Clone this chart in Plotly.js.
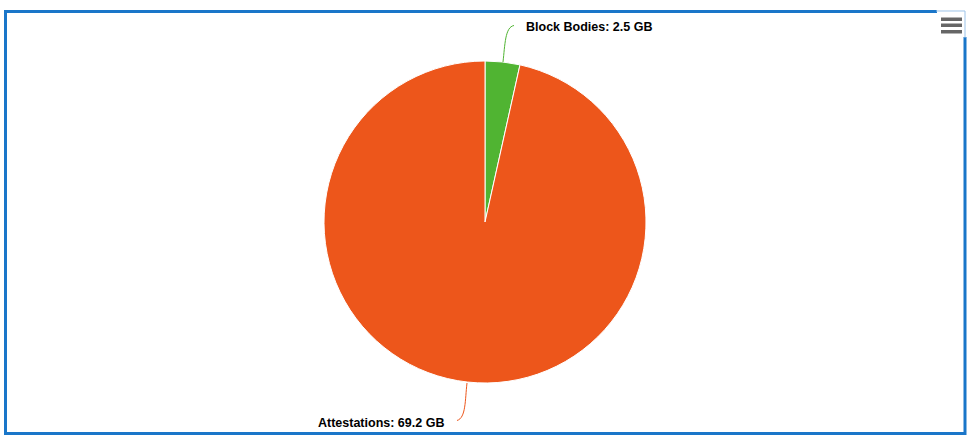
<!DOCTYPE html>
<html>
<head>
<meta charset="utf-8">
<script src="https://cdn.plot.ly/plotly-3.0.1.min.js"></script>
<style>html,body{margin:0;padding:0;background:#fff;}#chart{width:978px;height:444px;}</style>
</head>
<body>
<div id="chart"></div>
<script>
// Data
const categories = ["Block Bodies", "Attestations"];
const sizesGB = [2.5, 69.2];
const unit = "GB";
const sliceColors = ["#50B432", "#ED561B"];

const W = 978, H = 444;
const px = x => x / W;
const py = y => 1 - y / H;
function path(pts) {
  return pts.map(p => p[0] + " " + p.slice(1).map((v, i) => i % 2 === 0 ? px(v).toFixed(5) : py(v).toFixed(5)).join(" ")).join(" ");
}

const trace = {
  type: "pie",
  labels: categories,
  values: sizesGB,
  sort: false,
  direction: "clockwise",
  rotation: 0,
  textinfo: "none",
  hoverinfo: "label+value",
  marker: { colors: sliceColors, line: { color: "#ffffff", width: 1 } },
  domain: { x: [324 / W, 646 / W], y: [61 / H, 383 / H] },
  showlegend: false
};

const labelFont = { family: "Liberation Sans, Arial, sans-serif", size: 12.5, color: "#000000", weight: "bold" };

const annotations = [
  { text: "<b>" + categories[0] + ": " + sizesGB[0] + " " + unit + "</b>", x: px(524), y: py(27.5), xref: "paper", yref: "paper", xanchor: "left", yanchor: "middle", showarrow: false, font: labelFont },
  { text: "<b>" + categories[1] + ": " + sizesGB[1] + " " + unit + "</b>", x: px(446), y: py(422.5), xref: "paper", yref: "paper", xanchor: "right", yanchor: "middle", showarrow: false, font: labelFont }
];

const shapes = [
  { type: "path", xref: "paper", yref: "paper", path: path([["M", 503, 62], ["C", 505, 45, 505, 27, 514, 25.5]]), line: { color: sliceColors[0], width: 1 } },
  { type: "path", xref: "paper", yref: "paper", path: path([["M", 467, 383], ["C", 465, 400, 466, 418, 457, 420.5]]), line: { color: sliceColors[1], width: 1 } },
  { type: "rect", xref: "paper", yref: "paper", x0: px(5.5), x1: px(965), y0: py(433.5), y1: py(11.5), line: { color: "#1a76c9", width: 3 } },
  { type: "rect", xref: "paper", yref: "paper", x0: px(937), x1: px(967), y0: py(37), y1: py(10), fillcolor: "#ffffff", line: { width: 0 } },
  { type: "path", xref: "paper", yref: "paper", path: path([["M", 936, 11], ["L", 965, 11], ["L", 965, 38]]), line: { color: "#9cc3e8", width: 1 } },
  { type: "rect", xref: "paper", yref: "paper", x0: px(941), x1: px(962), y0: py(21), y1: py(17.5), fillcolor: "#666666", line: { width: 0 } },
  { type: "rect", xref: "paper", yref: "paper", x0: px(941), x1: px(962), y0: py(27), y1: py(23.5), fillcolor: "#666666", line: { width: 0 } },
  { type: "rect", xref: "paper", yref: "paper", x0: px(941), x1: px(962), y0: py(33.5), y1: py(30), fillcolor: "#666666", line: { width: 0 } }
];

const layout = {
  width: W, height: H,
  margin: { l: 0, r: 0, t: 0, b: 0, pad: 0 },
  paper_bgcolor: "#ffffff",
  plot_bgcolor: "#ffffff",
  showlegend: false,
  annotations: annotations,
  shapes: shapes
};

Plotly.newPlot("chart", [trace], layout, { displayModeBar: false, responsive: false });
</script>
</body>
</html>
